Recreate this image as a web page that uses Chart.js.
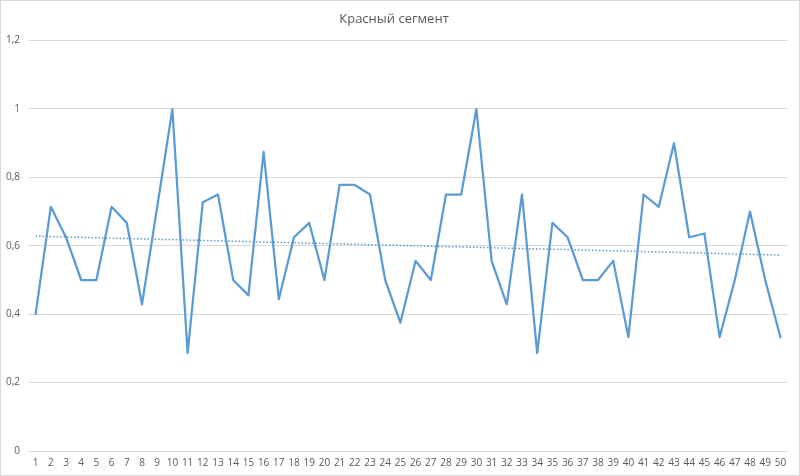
<!DOCTYPE html>
<html>
<head>
<meta charset="utf-8">
<script src="https://cdn.jsdelivr.net/npm/chart.js@4/dist/chart.umd.min.js"></script>
<style>
  html, body { margin: 0; padding: 0; background: #fff; }
  #wrap { width: 800px; height: 476px; position: relative; }
</style>
</head>
<body>
<div id="wrap"><canvas id="c" width="800" height="476"></canvas></div>
<script>
const chartTitle = "Красный сегмент";
const categories = [1,2,3,4,5,6,7,8,9,10,11,12,13,14,15,16,17,18,19,20,21,22,23,24,25,26,27,28,29,30,31,32,33,34,35,36,37,38,39,40,41,42,43,44,45,46,47,48,49,50];
const values = [
  0.4, 0.714, 0.625, 0.5, 0.5, 0.714, 0.667, 0.429, 0.714, 1.0,
  0.286, 0.727, 0.75, 0.5, 0.455, 0.875, 0.444, 0.625, 0.667, 0.5,
  0.778, 0.778, 0.75, 0.5, 0.375, 0.556, 0.5, 0.75, 0.75, 1.0,
  0.556, 0.429, 0.75, 0.286, 0.667, 0.625, 0.5, 0.5, 0.556, 0.333,
  0.75, 0.714, 0.9, 0.625, 0.636, 0.333, 0.5, 0.7, 0.5, 0.333
];
const trendEnds = [0.628, 0.573];
const yTicks = [0, 0.2, 0.4, 0.6, 0.8, 1, 1.2];

const trendData = categories.map((c, i) =>
  i === 0 ? trendEnds[0] : (i === categories.length - 1 ? trendEnds[1] : null));

const borderPlugin = {
  id: 'outerBorder',
  afterDraw(chart) {
    const ctx = chart.ctx;
    ctx.save();
    ctx.strokeStyle = '#D9D9D9';
    ctx.lineWidth = 1;
    ctx.strokeRect(0.5, 0.5, chart.width - 1, chart.height - 1);
    ctx.restore();
  }
};

const txt = '#595959';
const fam = "'Open Sans', 'Liberation Sans', sans-serif";
new Chart(document.getElementById('c'), {
  type: 'line',
  data: {
    labels: categories,
    datasets: [
      {
        data: values,
        borderColor: '#5B9BD5',
        borderWidth: 2.25,
        borderJoinStyle: 'round',
        borderCapStyle: 'round',
        pointRadius: 0,
        tension: 0,
        fill: false,
        order: 1
      },
      {
        data: trendData,
        borderColor: '#5B9BD5',
        borderWidth: 1.5,
        borderDash: [1.5, 2],
        pointRadius: 0,
        spanGaps: true,
        fill: false,
        order: 2
      }
    ]
  },
  options: {
    responsive: false,
    animation: false,
    devicePixelRatio: 1,
    layout: { padding: { top: 0, left: 0, right: 12, bottom: 0 } },
    plugins: {
      legend: { display: false },
      tooltip: { enabled: false },
      title: {
        display: true,
        text: chartTitle,
        color: txt,
        font: { family: fam, size: 13, weight: 'normal' },
        padding: { top: 11, bottom: 14 }
      }
    },
    scales: {
      x: {
        type: 'category',
        offset: true,
        grid: { display: false, drawTicks: false },
        border: { display: false },
        ticks: {
          color: txt,
          font: { family: fam, size: 10 },
          padding: 6,
          maxRotation: 0,
          autoSkip: false
        },
        afterFit(scale) { scale.height = 25; }
      },
      y: {
        min: 0,
        max: 1.2,
        grid: { color: '#D9D9D9', drawTicks: false, lineWidth: 1 },
        border: { display: false },
        afterBuildTicks(scale) { scale.ticks = yTicks.map(v => ({ value: v })); },
        ticks: {
          color: txt,
          font: { family: fam, size: 10 },
          padding: 8,
          callback: v => String(Math.round(v * 10) / 10).replace('.', ',')
        },
        afterFit(scale) { scale.width = 28; }
      }
    }
  },
  plugins: [borderPlugin]
});
</script>
</body>
</html>
